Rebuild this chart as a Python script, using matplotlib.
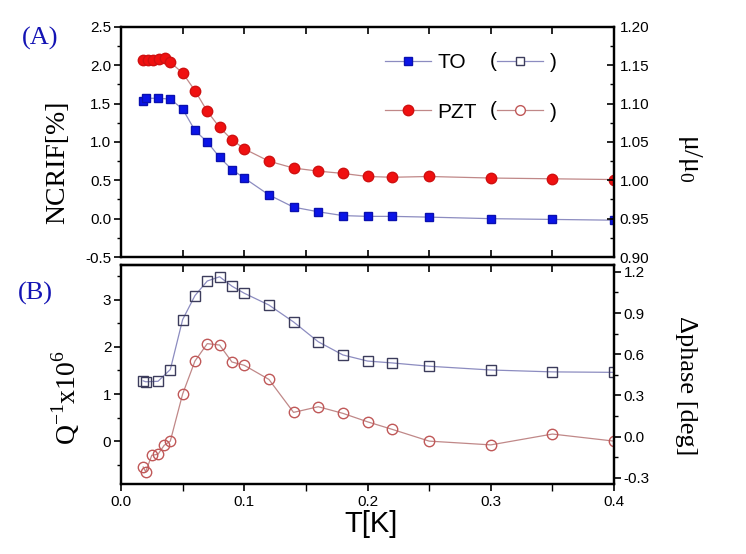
import numpy as np
import matplotlib
matplotlib.use('Agg')
import matplotlib.pyplot as plt
from matplotlib.ticker import MultipleLocator, FormatStrFormatter, NullFormatter
from matplotlib.legend_handler import HandlerLine2D
from matplotlib.text import Text

plt.rcParams['font.family'] = ['Liberation Sans', 'DejaVu Sans']

# Data

# (A) NCRIF
T_to_a = [0.018, 0.02, 0.03, 0.04, 0.05, 0.06, 0.07, 0.08, 0.09, 0.10,
          0.12, 0.14, 0.16, 0.18, 0.20, 0.22, 0.25, 0.30, 0.35, 0.40]
ncrif_to = [1.54, 1.57, 1.57, 1.56, 1.43, 1.15, 1.00, 0.80, 0.64, 0.53,
            0.31, 0.15, 0.09, 0.04, 0.03, 0.03, 0.02, 0.00, -0.01, -0.02]

T_pzt_a = [0.018, 0.022, 0.026, 0.031, 0.036, 0.04, 0.05, 0.06, 0.07, 0.08,
           0.09, 0.10, 0.12, 0.14, 0.16, 0.18, 0.20, 0.22, 0.25, 0.30, 0.35, 0.40]
ncrif_pzt = [2.07, 2.07, 2.07, 2.08, 2.09, 2.04, 1.90, 1.67, 1.40, 1.19,
             1.03, 0.91, 0.75, 0.66, 0.62, 0.59, 0.55, 0.54, 0.55, 0.53, 0.52, 0.51]

# (B) dissipation
T_to_b = [0.018, 0.02, 0.03, 0.04, 0.05, 0.06, 0.07, 0.08, 0.09, 0.10,
          0.12, 0.14, 0.16, 0.18, 0.20, 0.22, 0.25, 0.30, 0.35, 0.40]
q_to = [1.28, 1.26, 1.27, 1.52, 2.58, 3.09, 3.40, 3.49, 3.29, 3.14,
        2.89, 2.53, 2.11, 1.83, 1.70, 1.66, 1.59, 1.51, 1.47, 1.46]

T_pzt_b = [0.018, 0.02, 0.025, 0.03, 0.035, 0.04, 0.05, 0.06, 0.07, 0.08,
           0.09, 0.10, 0.12, 0.14, 0.16, 0.18, 0.20, 0.22, 0.25, 0.30, 0.35, 0.40]
q_pzt = [-0.55, -0.65, -0.30, -0.28, -0.09, 0.00, 1.00, 1.70, 2.07, 2.04,
         1.68, 1.61, 1.31, 0.61, 0.73, 0.59, 0.41, 0.25, 0.00, -0.08, 0.15, 0.00]

# Style

blue = '#0a14e8'
red = '#f01010'
blue_line = '#8c8cc0'
red_line = '#c08888'
sq_edge = '#3c3c5c'
ci_edge = '#c05858'
serif = 'Liberation Serif'


class ParenHandler(HandlerLine2D):
    # legend handle drawn as "( -marker- " so the label only holds ")"
    def create_artists(self, legend, orig_handle, xdescent, ydescent,
                       width, height, fontsize, trans):
        arts = super().create_artists(legend, orig_handle, xdescent, ydescent,
                                      width, height, fontsize, trans)
        t = Text(-xdescent - 0.03 * fontsize, height / 2 - ydescent, '(',
                 ha='right', va='center', fontsize=fontsize,
                 family='Liberation Sans')
        t.set_transform(trans)
        return list(arts) + [t]


fig = plt.figure(figsize=(7.46, 5.54), dpi=100)
axA = fig.add_axes([0.1622, 0.5361, 0.6609, 0.4152])
axB = fig.add_axes([0.1622, 0.1264, 0.6609, 0.3953])

for ax in (axA, axB):
    for s in ax.spines.values():
        s.set_linewidth(1.6)
    ax.set_xlim(0, 0.4)

# Panel A
lto, = axA.plot(T_to_a, ncrif_to, '-s', color=blue_line, lw=0.9,
                mfc=blue, mec='#0a10b0', ms=6, label='TO')
lpz, = axA.plot(T_pzt_a, ncrif_pzt, '-o', color=red_line, lw=0.9,
                mfc=red, mec='#d01010', ms=7.5, label='PZT')
axA.set_ylim(-0.5, 2.5)
axA.yaxis.set_major_locator(MultipleLocator(0.5))
axA.yaxis.set_minor_locator(MultipleLocator(0.25))
axA.yaxis.set_major_formatter(FormatStrFormatter('%.1f'))
axA.xaxis.set_major_locator(MultipleLocator(0.05))
axA.xaxis.set_major_formatter(NullFormatter())
axA.tick_params(axis='x', which='both', direction='in', top=True, length=5, width=1.2)
axA.tick_params(axis='y', which='major', direction='out', length=5, width=1.2, labelsize=11, pad=2)
axA.tick_params(axis='y', which='minor', direction='out', length=3, width=1.0)

axA2 = axA.twinx()
axA2.set_ylim(0.90, 1.20)
axA2.yaxis.set_major_locator(MultipleLocator(0.05))
axA2.yaxis.set_minor_locator(MultipleLocator(0.025))
axA2.yaxis.set_major_formatter(FormatStrFormatter('%.2f'))
axA2.tick_params(axis='y', which='major', direction='in', length=5, width=1.2, labelsize=11, pad=4)
axA2.tick_params(axis='y', which='minor', direction='in', length=3, width=1.0)
for s in axA2.spines.values():
    s.set_linewidth(1.6)

# legend handles for the open symbols of panel B
h_to_open = plt.Line2D([], [], color=blue_line, lw=0.9, marker='s', mfc='white', mec=sq_edge, ms=6)
h_pz_open = plt.Line2D([], [], color=red_line, lw=0.9, marker='o', mfc='white', mec=ci_edge, ms=7)
leg = axA.legend([lto, lpz, h_to_open, h_pz_open], ['TO', 'PZT', ')', ')'],
                 ncol=2, loc='upper left', bbox_to_anchor=(0.5355, 0.885),
                 frameon=False, fontsize=15, borderpad=0, handlelength=2.2,
                 handletextpad=0.3, labelspacing=1.45, columnspacing=1.0,
                 borderaxespad=0,
                 handler_map={h_to_open: ParenHandler(), h_pz_open: ParenHandler()})

# Panel B
axB.plot(T_to_b, q_to, '-s', color=blue_line, lw=0.9, mfc='none', mec=sq_edge, ms=6.5, mew=1.0)
axB.plot(T_pzt_b, q_pzt, '-o', color=red_line, lw=0.9, mfc='none', mec=ci_edge, ms=7.5, mew=1.0)
axB.set_ylim(-0.91, 3.74)
axB.yaxis.set_major_locator(MultipleLocator(1))
axB.yaxis.set_minor_locator(MultipleLocator(0.5))
axB.xaxis.set_major_locator(MultipleLocator(0.1))
axB.xaxis.set_minor_locator(MultipleLocator(0.05))
axB.xaxis.set_major_formatter(FormatStrFormatter('%.1f'))
axB.tick_params(axis='x', which='major', direction='out', length=5, width=1.2, labelsize=11, pad=3)
axB.tick_params(axis='x', which='minor', direction='out', length=5, width=1.0)
axB.tick_params(axis='y', which='major', direction='out', length=5, width=1.2, labelsize=11, pad=2)
axB.tick_params(axis='y', which='minor', direction='out', length=3, width=1.0)

axB2 = axB.twinx()
axB2.set_ylim(-0.345, 1.25)
axB2.yaxis.set_major_locator(MultipleLocator(0.3))
axB2.yaxis.set_minor_locator(MultipleLocator(0.15))
axB2.yaxis.set_major_formatter(FormatStrFormatter('%.1f'))
axB2.tick_params(axis='y', which='major', direction='out', length=5, width=1.2, labelsize=11, pad=2)
axB2.tick_params(axis='y', which='minor', direction='out', length=3, width=1.0)
for s in axB2.spines.values():
    s.set_linewidth(1.6)

# top ticks of panel B (inward)
axB3 = axB.secondary_xaxis('top')
axB3.xaxis.set_major_locator(MultipleLocator(0.05))
axB3.xaxis.set_major_formatter(NullFormatter())
axB3.tick_params(axis='x', direction='in', length=5, width=1.2)
axB3.spines['top'].set_linewidth(1.6)

# Labels
fig.text(40 / 746, 1 - 38 / 554, '(A)', color='#1414b4', family=serif, fontsize=19, ha='center', va='center')
fig.text(35 / 746, 1 - 293 / 554, '(B)', color='#1414b4', family=serif, fontsize=19, ha='center', va='center')
fig.text(58 / 746, 1 - 162 / 554, 'NCRIF[%]', family=serif, fontsize=20, rotation=90, ha='center', va='center')
fig.text(66 / 746, 1 - 398 / 554, 'Q$^{\\mathregular{-1}}$x10$^{\\mathregular{6}}$', family=serif, fontsize=20,
         rotation=90, ha='center', va='center')
fig.text(690 / 746, 1 - 158 / 554, 'μ/μ$_{\\mathregular{0}}$', family=serif, fontsize=20, rotation=270,
         ha='center', va='center')
fig.text(686 / 746, 1 - 386 / 554, 'Δphase [deg]', family=serif, fontsize=19, rotation=270,
         ha='center', va='center')
fig.text(371 / 746, 1 - 524 / 554, 'T[K]', fontsize=21, ha='center', va='center')

fig.savefig('out.png', dpi=100)
